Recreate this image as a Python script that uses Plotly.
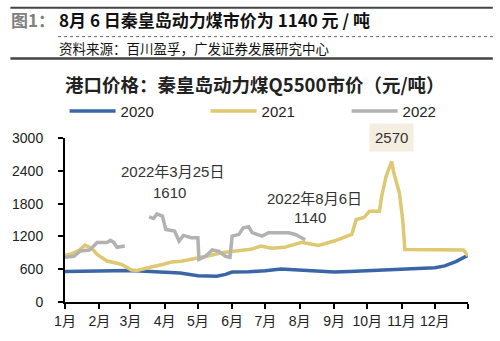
import plotly.graph_objects as go

# ---------------- data ----------------
month_labels = ["1月", "2月", "3月", "4月", "5月", "6月", "7月", "8月", "9月", "10月", "11月", "12月", ""]
month_ticks = ["01-01", "02-01", "03-01", "04-01", "05-01", "06-01", "07-01", "08-01",
               "09-01", "10-01", "11-01", "12-01", "12-31"]

dates_2020 = ["01-01", "01-15", "02-01", "02-15", "03-01", "03-15", "04-01", "04-15", "05-01",
              "05-10", "05-18", "05-26", "06-01", "06-16", "07-01", "07-15", "07-31", "08-15",
              "09-01", "09-15", "10-01", "10-15", "11-01", "11-15", "12-01", "12-10", "12-20", "12-31"]
price_2020 = [560, 560, 565, 570, 578, 568, 552, 530, 482,
              468, 470, 505, 548, 552, 570, 605, 585, 555,
              548, 560, 575, 590, 598, 608, 625, 660, 740, 855]

dates_2021 = ["01-01", "01-07", "01-14", "01-19", "01-23", "01-27", "01-30", "02-03", "02-08",
              "02-17", "02-21", "02-26", "03-02", "03-07", "03-13", "03-20", "03-29", "04-07",
              "04-16", "04-25", "05-03", "05-12", "05-22", "06-01", "06-12", "06-18", "06-27",
              "07-06", "07-18", "08-03", "08-18", "09-01", "09-14", "09-17", "09-21", "09-28",
              "10-03", "10-12", "10-14", "10-18", "10-23", "10-25", "10-30", "11-02", "11-04",
              "12-27", "12-31"]
price_2021 = [855, 880, 950, 1040, 1000, 940, 870, 810, 750,
              710, 690, 630, 585, 575, 610, 640, 680, 730,
              745, 780, 800, 850, 900, 930, 950, 963, 1024,
              982, 1000, 1090, 1036, 1115, 1206, 1236, 1509, 1545,
              1660, 1660, 1933, 2296, 2570, 2363, 2000, 1509, 960,
              950, 840]

dates_2022 = ["01-01", "01-09", "01-15", "01-23", "01-27", "01-30", "02-08", "02-11", "02-14",
              "02-17", "02-24", "03-05", "03-18", "03-22", "03-25", "03-30", "04-02", "04-10",
              "04-14", "04-18", "04-25", "05-01", "05-02", "05-08", "05-14", "05-20", "05-26",
              "05-30", "06-01", "06-07", "06-11", "06-16", "06-19", "06-28", "07-04", "07-22",
              "07-28", "08-03", "08-06"]
price_2022 = [818, 836, 933, 951, 1024, 1090, 1090, 1127, 1090,
              1000, 1024, None, 1557, 1527, 1610, 1570, 1327, 1297,
              1115, 1218, 1176, 1176, 782, 836, 951, 927, 836,
              818, 1206, 1236, 1357, 1376, 1270, 1206, 1267, 1267,
              1236, 1176, 1140]

series_names = ["2020", "2021", "2022"]
series_colors = ["#3A66A7", "#DEC872", "#B2B2B2"]

BASE_YEAR = "2021-"

def to_dates(md):
    return [BASE_YEAR + d for d in md]

# ---------------- layout geometry ----------------
W, H = 500, 341
L, R, T, B = 62, 468, 138, 303   # plot area in pixels


def px(x):
    return (x - L) / (R - L)


def py(y):
    return (B - y) / (B - T)


FONT = "Liberation Sans, Arial, Noto Sans CJK SC, sans-serif"
CJK = "Noto Sans CJK SC, Liberation Sans, sans-serif"

fig = go.Figure()
for name, d, v, c in zip(series_names, [dates_2020, dates_2021, dates_2022],
                         [price_2020, price_2021, price_2022], series_colors):
    fig.add_trace(go.Scatter(x=to_dates(d), y=v, mode="lines", name=name,
                             line=dict(color=c, width=3.5), connectgaps=False))

shapes = [
    dict(type="line", xref="paper", yref="paper", x0=px(7), x1=px(493), y0=py(7), y1=py(7),
         line=dict(color="#444444", width=2)),
    dict(type="line", xref="paper", yref="paper", x0=px(55), x1=px(493), y0=py(36), y1=py(36),
         line=dict(color="#666666", width=1, dash="dot")),
    dict(type="line", xref="paper", yref="paper", x0=px(7), x1=px(493), y0=py(58), y1=py(58),
         line=dict(color="#444444", width=2.5)),
]

annotations = [
    dict(text="<b>图1：</b>", xref="paper", yref="paper", x=px(6), y=py(19), xanchor="left",
         yanchor="middle", showarrow=False, font=dict(family=CJK, size=17, color="#7F7F7F")),
    dict(text="<b>8月 6 日秦皇岛动力煤市价为 1140 元 / 吨</b>", xref="paper", yref="paper", x=px(54),
         y=py(19), xanchor="left", yanchor="middle", showarrow=False,
         font=dict(family=CJK, size=17, color="#111111")),
    dict(text="资料来源：百川盈孚，广发证券发展研究中心", xref="paper", yref="paper", x=px(54),
         y=py(47), xanchor="left", yanchor="middle", showarrow=False,
         font=dict(family=CJK, size=13.5, color="#111111")),
    dict(text="<b>港口价格：秦皇岛动力煤Q5500市价（元/吨）</b>", xref="paper", yref="paper",
         x=px(253), y=py(84), xanchor="center", yanchor="middle", showarrow=False,
         font=dict(family=CJK, size=18.5, color="#222222")),
    dict(text="2022年3月25日", xref="paper", yref="paper", x=px(170), y=py(172),
         xanchor="center", yanchor="middle", showarrow=False,
         font=dict(family=FONT, size=15, color="#333333")),
    dict(text="1610", xref="paper", yref="paper", x=px(167), y=py(193),
         xanchor="center", yanchor="middle", showarrow=False,
         font=dict(family=FONT, size=15, color="#333333")),
    dict(text="2022年8月6日", xref="paper", yref="paper", x=px(313), y=py(199),
         xanchor="center", yanchor="middle", showarrow=False,
         font=dict(family=FONT, size=15, color="#333333")),
    dict(text="1140", xref="paper", yref="paper", x=px(309), y=py(218),
         xanchor="center", yanchor="middle", showarrow=False,
         font=dict(family=FONT, size=15, color="#333333")),
    dict(text="2570", xref="x", yref="y", x=BASE_YEAR + "10-23", y=max(price_2021),
         xanchor="center", yanchor="bottom", yshift=10, showarrow=False,
         bgcolor="#F3EEDF", borderpad=5,
         font=dict(family=FONT, size=15, color="#333333")),
]

fig.update_layout(
    width=W, height=H, autosize=False,
    margin=dict(l=L, r=W - R, t=T, b=H - B, pad=0),
    paper_bgcolor="white", plot_bgcolor="white",
    font=dict(family=FONT, size=14, color="#222222"),
    showlegend=True,
    legend=dict(orientation="h", xref="paper", yref="paper", x=-0.001, y=py(111),
                xanchor="left", yanchor="middle", entrywidth=80, entrywidthmode="pixels",
                font=dict(family=FONT, size=15, color="#222222"), bgcolor="rgba(0,0,0,0)",
                itemwidth=46, tracegroupgap=0),
    xaxis=dict(type="date", range=[BASE_YEAR + "01-01", BASE_YEAR + "12-31"],
               tickmode="array", tickvals=to_dates(month_ticks), ticktext=month_labels,
               showgrid=False, zeroline=False, showline=True, linecolor="#000000", linewidth=2,
               ticks="outside", ticklen=5, tickwidth=2, tickcolor="#000000",
               tickfont=dict(family=FONT, size=14, color="#222222"), fixedrange=True),
    yaxis=dict(range=[0, 3000], tickmode="linear", tick0=0, dtick=600,
               showgrid=False, zeroline=False, showline=True, linecolor="#000000", linewidth=2,
               ticks="outside", ticklen=5, tickwidth=2, tickcolor="#000000",
               ticklabelstandoff=12,
               tickfont=dict(family=FONT, size=14, color="#222222"), fixedrange=True),
    shapes=shapes,
    annotations=annotations,
)

fig.write_html("out.html")
